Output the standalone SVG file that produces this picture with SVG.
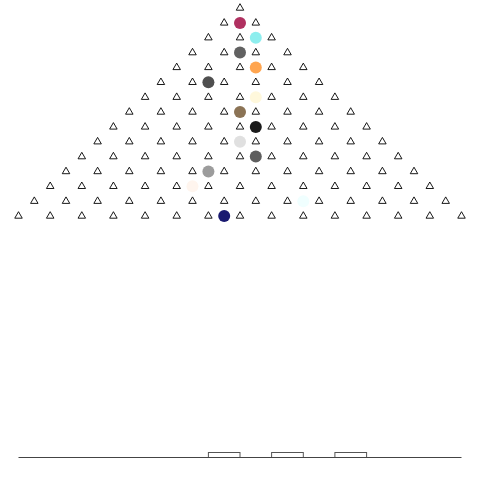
<svg xmlns="http://www.w3.org/2000/svg" xmlns:xlink="http://www.w3.org/1999/xlink" width="480" height="480" viewBox="0 0 480 480">
<style>
.peg{fill:none;stroke:#000;stroke-width:0.9}
.ball{stroke:none}
.bin{fill:#fff;stroke:#555;stroke-width:1}
.base{stroke:#444;stroke-width:1}
</style>
<defs>
<path id="p" class="peg" d="M0,-4.3 L3.75,2.2 L-3.75,2.2 Z"/>
</defs>
<rect width="480" height="480" fill="#fff"/>
<g id="pegs">
<use href="#p" x="240" y="8"/>
<use href="#p" x="224.2" y="22.9"/><use href="#p" x="255.8" y="22.9"/>
<use href="#p" x="208.4" y="37.7"/><use href="#p" x="240" y="37.7"/><use href="#p" x="271.6" y="37.7"/>
<use href="#p" x="192.5" y="52.6"/><use href="#p" x="224.2" y="52.6"/><use href="#p" x="255.8" y="52.6"/><use href="#p" x="287.5" y="52.6"/>
<use href="#p" x="176.7" y="67.4"/><use href="#p" x="208.4" y="67.4"/><use href="#p" x="240" y="67.4"/><use href="#p" x="271.6" y="67.4"/><use href="#p" x="303.3" y="67.4"/>
<use href="#p" x="160.9" y="82.3"/><use href="#p" x="192.5" y="82.3"/><use href="#p" x="224.2" y="82.3"/><use href="#p" x="255.8" y="82.3"/><use href="#p" x="287.5" y="82.3"/><use href="#p" x="319.1" y="82.3"/>
<use href="#p" x="145.1" y="97.2"/><use href="#p" x="176.7" y="97.2"/><use href="#p" x="208.4" y="97.2"/><use href="#p" x="240" y="97.2"/><use href="#p" x="271.6" y="97.2"/><use href="#p" x="303.3" y="97.2"/><use href="#p" x="334.9" y="97.2"/>
<use href="#p" x="129.3" y="112"/><use href="#p" x="160.9" y="112"/><use href="#p" x="192.5" y="112"/><use href="#p" x="224.2" y="112"/><use href="#p" x="255.8" y="112"/><use href="#p" x="287.5" y="112"/><use href="#p" x="319.1" y="112"/><use href="#p" x="350.7" y="112"/>
<use href="#p" x="113.4" y="126.9"/><use href="#p" x="145.1" y="126.9"/><use href="#p" x="176.7" y="126.9"/><use href="#p" x="208.4" y="126.9"/><use href="#p" x="240" y="126.9"/><use href="#p" x="271.6" y="126.9"/><use href="#p" x="303.3" y="126.9"/><use href="#p" x="334.9" y="126.9"/><use href="#p" x="366.6" y="126.9"/>
<use href="#p" x="97.6" y="141.7"/><use href="#p" x="129.3" y="141.7"/><use href="#p" x="160.9" y="141.7"/><use href="#p" x="192.5" y="141.7"/><use href="#p" x="224.2" y="141.7"/><use href="#p" x="255.8" y="141.7"/><use href="#p" x="287.5" y="141.7"/><use href="#p" x="319.1" y="141.7"/><use href="#p" x="350.7" y="141.7"/><use href="#p" x="382.4" y="141.7"/>
<use href="#p" x="81.8" y="156.6"/><use href="#p" x="113.4" y="156.6"/><use href="#p" x="145.1" y="156.6"/><use href="#p" x="176.7" y="156.6"/><use href="#p" x="208.4" y="156.6"/><use href="#p" x="240" y="156.6"/><use href="#p" x="271.6" y="156.6"/><use href="#p" x="303.3" y="156.6"/><use href="#p" x="334.9" y="156.6"/><use href="#p" x="366.6" y="156.6"/><use href="#p" x="398.2" y="156.6"/>
<use href="#p" x="66" y="171.5"/><use href="#p" x="97.6" y="171.5"/><use href="#p" x="129.3" y="171.5"/><use href="#p" x="160.9" y="171.5"/><use href="#p" x="192.5" y="171.5"/><use href="#p" x="224.2" y="171.5"/><use href="#p" x="255.8" y="171.5"/><use href="#p" x="287.5" y="171.5"/><use href="#p" x="319.1" y="171.5"/><use href="#p" x="350.7" y="171.5"/><use href="#p" x="382.4" y="171.5"/><use href="#p" x="414" y="171.5"/>
<use href="#p" x="50.2" y="186.3"/><use href="#p" x="81.8" y="186.3"/><use href="#p" x="113.4" y="186.3"/><use href="#p" x="145.1" y="186.3"/><use href="#p" x="176.7" y="186.3"/><use href="#p" x="208.4" y="186.3"/><use href="#p" x="240" y="186.3"/><use href="#p" x="271.6" y="186.3"/><use href="#p" x="303.3" y="186.3"/><use href="#p" x="334.9" y="186.3"/><use href="#p" x="366.6" y="186.3"/><use href="#p" x="398.2" y="186.3"/><use href="#p" x="429.8" y="186.3"/>
<use href="#p" x="34.3" y="201.2"/><use href="#p" x="66" y="201.2"/><use href="#p" x="97.6" y="201.2"/><use href="#p" x="129.3" y="201.2"/><use href="#p" x="160.9" y="201.2"/><use href="#p" x="192.5" y="201.2"/><use href="#p" x="224.2" y="201.2"/><use href="#p" x="255.8" y="201.2"/><use href="#p" x="287.5" y="201.2"/><use href="#p" x="319.1" y="201.2"/><use href="#p" x="350.7" y="201.2"/><use href="#p" x="382.4" y="201.2"/><use href="#p" x="414" y="201.2"/><use href="#p" x="445.7" y="201.2"/>
<use href="#p" x="18.5" y="216"/><use href="#p" x="50.2" y="216"/><use href="#p" x="81.8" y="216"/><use href="#p" x="113.4" y="216"/><use href="#p" x="145.1" y="216"/><use href="#p" x="176.7" y="216"/><use href="#p" x="208.4" y="216"/><use href="#p" x="240" y="216"/><use href="#p" x="271.6" y="216"/><use href="#p" x="303.3" y="216"/><use href="#p" x="334.9" y="216"/><use href="#p" x="366.6" y="216"/><use href="#p" x="398.2" y="216"/><use href="#p" x="429.8" y="216"/><use href="#p" x="461.5" y="216"/>
</g>
<g id="balls">
<circle class="ball" cx="240" cy="22.9" r="6" fill="#B03060"/>
<circle class="ball" cx="255.8" cy="37.7" r="6" fill="#8DEEEE"/>
<circle class="ball" cx="240" cy="52.6" r="6" fill="#616161"/>
<circle class="ball" cx="255.8" cy="67.4" r="6" fill="#FFA54F"/>
<circle class="ball" cx="208.4" cy="82.3" r="6" fill="#4F4F4F"/>
<circle class="ball" cx="255.8" cy="97.2" r="6" fill="#FFF8DC"/>
<circle class="ball" cx="240" cy="112" r="6" fill="#8B7355"/>
<circle class="ball" cx="255.8" cy="126.9" r="6" fill="#1A1A1A"/>
<circle class="ball" cx="240" cy="141.7" r="6" fill="#E0E0E0"/>
<circle class="ball" cx="255.8" cy="156.6" r="6" fill="#5E5E5E"/>
<circle class="ball" cx="208.4" cy="171.5" r="6" fill="#9C9C9C"/>
<circle class="ball" cx="192.5" cy="186.3" r="6" fill="#FFF5EE"/>
<circle class="ball" cx="303.3" cy="201.2" r="6" fill="#F0FFFF"/>
<circle class="ball" cx="224.2" cy="216" r="6" fill="#191970"/>
</g>
<g id="histogram">
<rect class="bin" x="208.4" y="452.5" width="31.6" height="5"/>
<rect class="bin" x="271.6" y="452.5" width="31.7" height="5"/>
<rect class="bin" x="334.9" y="452.5" width="31.7" height="5"/>
<line class="base" x1="18.5" y1="457.5" x2="461.5" y2="457.5"/>
</g>
</svg>
